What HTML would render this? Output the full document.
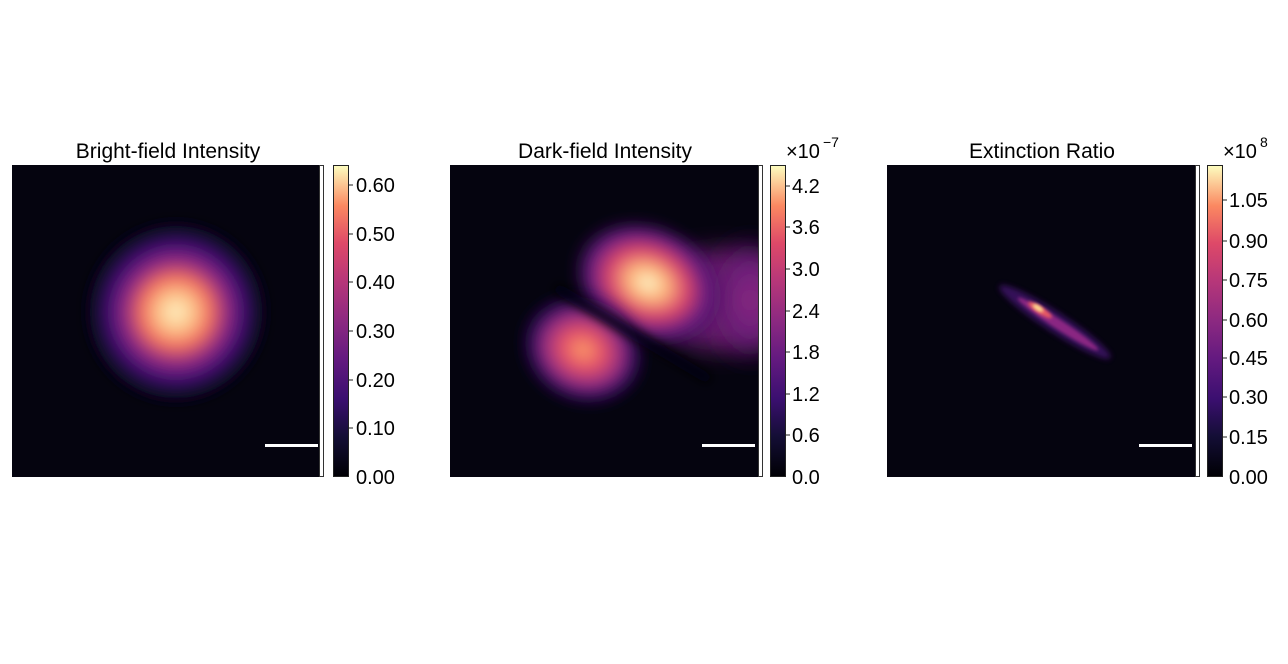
<!DOCTYPE html>
<html><head><meta charset="utf-8"><style>
html,body{margin:0;padding:0;background:#fff;}
svg{display:block;}
text{font-family:"Liberation Sans",Arial,sans-serif;fill:#000;}
</style></head><body>
<svg width="1288" height="664" viewBox="0 0 1288 664" xmlns="http://www.w3.org/2000/svg">
<defs>
<linearGradient id="cb" x1="0" y1="1" x2="0" y2="0">
<stop offset="0" stop-color="#000004"/><stop offset="0.13" stop-color="#140e36"/>
<stop offset="0.25" stop-color="#3b0f70"/><stop offset="0.38" stop-color="#641a80"/>
<stop offset="0.5" stop-color="#8c2981"/><stop offset="0.63" stop-color="#b73779"/>
<stop offset="0.75" stop-color="#de4968"/><stop offset="0.87" stop-color="#fb8861"/>
<stop offset="1" stop-color="#fcfdbf"/></linearGradient>
<radialGradient id="r1">
<stop offset="0" stop-color="#fdf0c0"/><stop offset="0.2" stop-color="#fdc088"/>
<stop offset="0.38" stop-color="#f07060"/><stop offset="0.55" stop-color="#9a2e80"/>
<stop offset="0.72" stop-color="#4a1278"/><stop offset="0.86" stop-color="#1a0c3a"/><stop offset="1" stop-color="#05040f"/></radialGradient>
<radialGradient id="r2">
<stop offset="0" stop-color="#fdf5c6"/><stop offset="0.25" stop-color="#fcb07a"/>
<stop offset="0.5" stop-color="#d8456c"/><stop offset="0.75" stop-color="#6a1c81"/>
<stop offset="1" stop-color="#3a0f60" stop-opacity="0"/></radialGradient>
<radialGradient id="r3">
<stop offset="0" stop-color="#fb9a66"/><stop offset="0.3" stop-color="#e4526a"/>
<stop offset="0.6" stop-color="#8c2981"/><stop offset="0.8" stop-color="#3b0f70" stop-opacity="0.7"/>
<stop offset="1" stop-color="#05040f" stop-opacity="0"/></radialGradient>
<linearGradient id="tail" x1="0" y1="0" x2="1" y2="0">
<stop offset="0" stop-color="#7a2183" stop-opacity="0"/><stop offset="0.4" stop-color="#7a2183" stop-opacity="0.8"/><stop offset="1" stop-color="#b3367a"/></linearGradient>
<radialGradient id="r5">
<stop offset="0" stop-color="#9a2e80"/><stop offset="0.6" stop-color="#5a1780" stop-opacity="0.7"/><stop offset="1" stop-color="#05040f" stop-opacity="0"/></radialGradient>
<filter id="bl" x="-50%" y="-50%" width="200%" height="200%"><feGaussianBlur stdDeviation="12"/></filter>
<filter id="bs" x="-50%" y="-50%" width="200%" height="200%"><feGaussianBlur stdDeviation="6"/></filter>
<filter id="bl2" x="-50%" y="-50%" width="200%" height="200%"><feGaussianBlur stdDeviation="3"/></filter>
<filter id="bl4" x="-50%" y="-50%" width="200%" height="200%"><feGaussianBlur stdDeviation="5"/></filter>
<filter id="bl1" x="-50%" y="-50%" width="200%" height="200%"><feGaussianBlur stdDeviation="1.5"/></filter>
<clipPath id="c1"><rect x="12" y="165" width="307" height="312"/></clipPath>
<clipPath id="c2"><rect x="450" y="165" width="308" height="312"/></clipPath>
<clipPath id="c3"><rect x="887" y="165" width="308" height="312"/></clipPath>
</defs>

<!-- Panel 1 -->
<text x="168" y="158" font-size="21" text-anchor="middle">Bright-field Intensity</text>
<rect x="12" y="165" width="307" height="312" fill="#05040f"/>
<g clip-path="url(#c1)"><circle cx="176" cy="312" r="90" fill="url(#r1)" filter="url(#bs)"/></g>
<rect x="265" y="444" width="53" height="3" fill="#fff"/>
<rect x="319.5" y="165.5" width="4" height="311" fill="#fff" stroke="#333" stroke-width="1"/>
<rect x="333.5" y="165.5" width="15" height="311" fill="url(#cb)" stroke="#222" stroke-width="1"/>
<g font-size="20">
<text x="356" y="192">0.60</text><text x="356" y="241">0.50</text><text x="356" y="289">0.40</text>
<text x="356" y="338">0.30</text><text x="356" y="387">0.20</text><text x="356" y="435">0.10</text><text x="356" y="484">0.00</text></g>
<g stroke="#222"><line x1="349" y1="185" x2="353" y2="185"/><line x1="349" y1="234" x2="353" y2="234"/><line x1="349" y1="282" x2="353" y2="282"/><line x1="349" y1="331" x2="353" y2="331"/><line x1="349" y1="380" x2="353" y2="380"/><line x1="349" y1="428" x2="353" y2="428"/></g>

<!-- Panel 2 -->
<text x="605" y="158" font-size="21" text-anchor="middle">Dark-field Intensity</text>
<rect x="450" y="165" width="308" height="312" fill="#05040f"/>
<g clip-path="url(#c2)">
<ellipse cx="720" cy="300" rx="90" ry="50" fill="url(#tail)" filter="url(#bl)"/>
<ellipse cx="750" cy="300" rx="40" ry="70" fill="url(#r5)" filter="url(#bl)"/>
<ellipse cx="648" cy="283" rx="80" ry="62" transform="rotate(25 648 283)" fill="url(#r2)" filter="url(#bs)"/>
<ellipse cx="583" cy="350" rx="68" ry="58" transform="rotate(25 583 350)" fill="url(#r3)" filter="url(#bs)"/>
<line x1="555" y1="287" x2="710" y2="380" stroke="#05040f" stroke-width="10" filter="url(#bl4)"/>
</g>
<rect x="702" y="444" width="53" height="3" fill="#fff"/>
<rect x="758.5" y="165.5" width="4" height="311" fill="#fff" stroke="#333" stroke-width="1"/>
<rect x="770.5" y="165.5" width="15" height="311" fill="url(#cb)" stroke="#222" stroke-width="1"/>
<g font-size="20">
<text x="792" y="193">4.2</text><text x="792" y="234">3.6</text><text x="792" y="276">3.0</text>
<text x="792" y="318">2.4</text><text x="792" y="359">1.8</text><text x="792" y="401">1.2</text><text x="792" y="442">0.6</text><text x="792" y="484">0.0</text></g>
<text x="786" y="158" font-size="20">×10</text><text x="823" y="147" font-size="14">−7</text>
<g stroke="#222"><line x1="786" y1="186" x2="790" y2="186"/><line x1="786" y1="227" x2="790" y2="227"/><line x1="786" y1="269" x2="790" y2="269"/><line x1="786" y1="311" x2="790" y2="311"/><line x1="786" y1="352" x2="790" y2="352"/><line x1="786" y1="394" x2="790" y2="394"/><line x1="786" y1="435" x2="790" y2="435"/></g>

<!-- Panel 3 -->
<text x="1042" y="158" font-size="21" text-anchor="middle">Extinction Ratio</text>
<rect x="887" y="165" width="308" height="312" fill="#05040f"/>
<g clip-path="url(#c3)">
<ellipse cx="1055" cy="322" rx="66" ry="10" transform="rotate(33 1055 322)" fill="#4a1478" filter="url(#bl2)" opacity="0.7"/>
<ellipse cx="1058" cy="324" rx="48" ry="5" transform="rotate(33 1058 324)" fill="#8a2882" filter="url(#bl1)"/>
<ellipse cx="1040" cy="310" rx="14" ry="3.5" transform="rotate(33 1040 310)" fill="#e85a64" filter="url(#bl1)"/>
<ellipse cx="1038" cy="308" rx="6" ry="2.5" transform="rotate(33 1038 308)" fill="#fde090" filter="url(#bl1)"/>
</g>
<rect x="1139" y="444" width="53" height="3" fill="#fff"/>
<rect x="1195.5" y="165.5" width="4" height="311" fill="#fff" stroke="#333" stroke-width="1"/>
<rect x="1207.5" y="165.5" width="15" height="311" fill="url(#cb)" stroke="#222" stroke-width="1"/>
<g font-size="20">
<text x="1229" y="207">1.05</text><text x="1229" y="248">0.90</text><text x="1229" y="287">0.75</text>
<text x="1229" y="327">0.60</text><text x="1229" y="365">0.45</text><text x="1229" y="404">0.30</text><text x="1229" y="444">0.15</text><text x="1229" y="484">0.00</text></g>
<text x="1223" y="158" font-size="20">×10</text><text x="1260" y="147" font-size="14">8</text>
<g stroke="#222"><line x1="1223" y1="200" x2="1227" y2="200"/><line x1="1223" y1="241" x2="1227" y2="241"/><line x1="1223" y1="280" x2="1227" y2="280"/><line x1="1223" y1="320" x2="1227" y2="320"/><line x1="1223" y1="358" x2="1227" y2="358"/><line x1="1223" y1="397" x2="1227" y2="397"/><line x1="1223" y1="437" x2="1227" y2="437"/></g>
</svg>
</body></html>
